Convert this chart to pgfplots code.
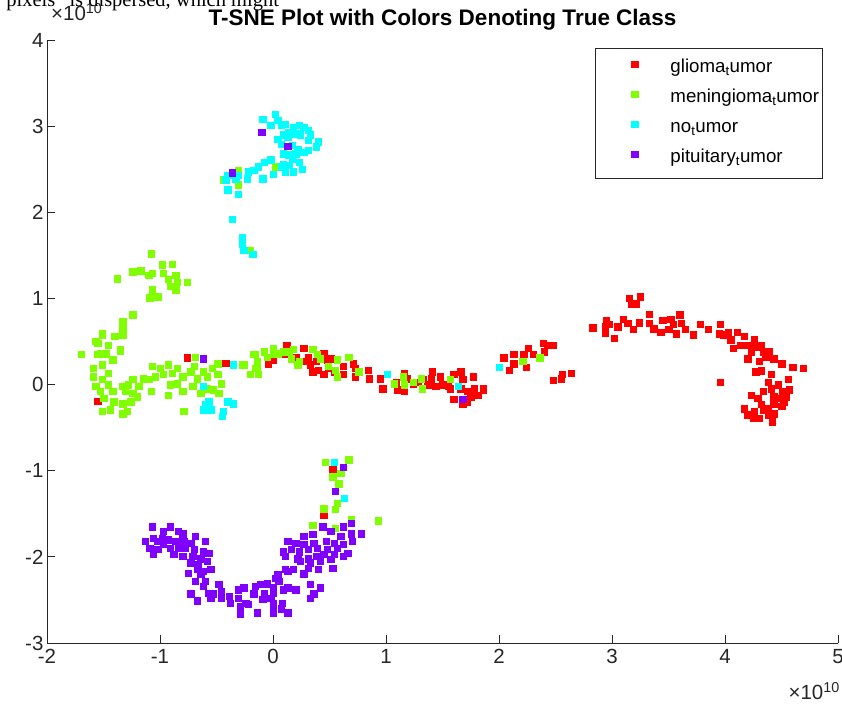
\documentclass[border=0pt]{standalone}
\usepackage{pgfplots}
\pgfplotsset{compat=1.18}
\usepackage{fontspec}
\setmainfont{Liberation Sans}
\newfontfamily\timesfont{Liberation Serif}
\definecolor{cGli}{RGB}{255,0,0}
\definecolor{cMen}{RGB}{128,255,0}
\definecolor{cNo}{RGB}{0,255,255}
\definecolor{cPit}{RGB}{128,0,255}
\definecolor{axgray}{RGB}{38,38,38}
\begin{document}
\begin{tikzpicture}[x=1pt,y=1pt]
\useasboundingbox (0,0) rectangle (842,708);
\node[anchor=base west, inner sep=0pt, font=\timesfont\fontsize{20.5}{24}\selectfont] at (-3,701.5) {\char"201C pixels\char"201D\ is dispersed, which might};
\begin{axis}[
  at={(47pt,65pt)}, anchor=south west,
  scale only axis, width=791pt, height=603pt,
  xmin=-2, xmax=5, ymin=-3, ymax=4,
  xtick={-2,-1,0,1,2,3,4,5}, ytick={-3,-2,-1,0,1,2,3,4},
  axis x line*=bottom, axis y line*=left,
  axis line style={-, draw=axgray, line width=0.9pt},
  tick align=inside, major tick length=8pt,
  tick style={draw=axgray, line width=0.9pt},
  ticklabel style={font=\fontsize{20.5}{24}\selectfont, text=axgray},
  xticklabel style={yshift=-3pt},
  /pgf/number format/assume math mode=true,
  clip=false,
  title={T-SNE Plot with Colors Denoting True Class},
  title style={at={(0.5,1)}, anchor=base, yshift=8.5pt, font=\bfseries\fontsize{22.5}{26}\selectfont, text=black, inner sep=0pt},
  legend style={at={(0.981,0.9867)}, anchor=north east, draw=axgray, line width=0.8pt, fill=white,
    inner xsep=3.5pt, inner ysep=10.5pt, row sep=11pt,
    nodes={inner sep=0pt, text height=14pt, text depth=5pt, font=\fontsize{18.7}{22}\selectfont, line width=0pt},
    /tikz/every even column/.append style={column sep=0pt}},
  legend cell align=left,
  legend image code/.code={\path (0pt,0pt) (70.5pt,0pt); \draw[#1] plot coordinates {(35pt,4pt)};},
  every axis plot/.append style={only marks, mark=square*, mark size=3.2pt, mark options={line width=0.4pt}},
]
\addplot[color=cGli] coordinates {
(3.15,1.00) (3.25,1.02) (3.17,0.93) (3.21,0.94) (2.83,0.66) (2.95,0.74) (2.94,0.67) (2.97,0.70)
(2.94,0.60) (3.02,0.54) (3.05,0.67) (3.10,0.76) (3.14,0.71) (3.19,0.64) (3.24,0.72) (3.33,0.82)
(3.33,0.71) (3.37,0.65) (3.43,0.61) (3.45,0.75) (3.52,0.76) (3.54,0.70) (3.50,0.64) (3.57,0.59)
(3.60,0.81) (3.61,0.71) (3.65,0.64) (3.72,0.58) (3.78,0.70) (3.85,0.64) (3.96,0.70) (3.95,0.59)
(3.99,0.58) (4.03,0.61) (4.05,0.52) (4.11,0.61) (4.14,0.46) (4.17,0.56) (4.20,0.46) (4.26,0.53)
(4.23,0.38) (4.27,0.44) (4.32,0.46) (4.34,0.38) (4.36,0.32) (4.39,0.38) (4.43,0.30) (4.50,0.24)
(4.60,0.20) (4.69,0.19) (4.20,0.30) (4.30,0.27) (4.07,0.42) (3.96,0.03) (4.27,0.15) (4.32,0.16)
(4.41,0.12) (4.38,0.03) (4.56,0.06) (4.47,0.00) (4.57,-0.06) (4.23,-0.12) (4.29,-0.16) (4.34,-0.08)
(4.41,-0.05) (4.43,-0.14) (4.48,-0.16) (4.52,-0.20) (4.32,-0.23) (4.38,-0.28) (4.43,-0.23) (4.50,-0.25)
(4.17,-0.28) (4.20,-0.35) (4.25,-0.39) (4.30,-0.39) (4.38,-0.35) (4.42,-0.43) (4.43,-0.34) (4.26,-0.31)
(4.34,-0.29) (4.51,-0.08) (4.54,-0.14)
(2.04,0.31) (2.13,0.35) (2.09,0.17) (2.13,0.24) (2.24,0.20) (2.22,0.35) (2.26,0.42) (2.30,0.35)
(2.39,0.48) (2.43,0.46) (2.48,0.46) (2.40,0.38) (2.48,0.05) (2.55,0.07) (2.56,0.12) (2.64,0.13)
(1.86,-0.05)
(0.12,0.46) (0.11,0.36) (0.07,0.35) (0.00,0.29) (-0.04,0.24) (0.27,0.42) (0.20,0.32) (0.31,0.32)
(0.29,0.27) (0.33,0.23) (0.38,0.27) (0.40,0.17) (0.45,0.36) (0.48,0.29) (0.51,0.30) (0.49,0.19)
(0.35,0.15) (0.45,0.12) (0.54,0.15) (0.62,0.21) (0.62,0.12) (0.71,0.24) (0.73,0.19) (0.73,0.09)
(0.84,0.17) (0.85,0.07) (0.95,0.07) (0.97,-0.05) (1.10,-0.06) (1.16,-0.08) (1.16,0.13) (1.09,0.03)
(1.19,0.07) (1.24,0.01) (1.28,0.03) (1.33,0.06) (1.37,0.00) (1.41,0.15) (1.40,0.07) (1.44,-0.02)
(1.48,0.09) (1.50,0.00) (1.55,-0.02) (1.57,-0.05) (1.60,0.12) (1.66,0.15) (1.68,0.06) (1.66,-0.05)
(1.77,0.09) (1.78,-0.05) (1.72,-0.08) (1.75,-0.14) (1.81,-0.12) (1.86,-0.06) (1.60,-0.17) (1.68,-0.23)
(1.72,-0.20)
(-0.76,0.31) (-0.42,0.25) (-1.55,-0.19) (0.45,-1.51) (0.53,-0.98)
};
\addlegendentry{glioma\textsubscript{t}umor}
\addplot[color=cMen] coordinates {
(-1.08,1.52) (-0.98,1.39) (-0.89,1.40) (-1.24,1.31) (-1.17,1.32) (-1.10,1.27) (-1.07,1.29) (-0.97,1.29)
(-0.93,1.22) (-0.86,1.27) (-0.85,1.19) (-0.76,1.19) (-0.91,1.14) (-0.86,1.10) (-1.38,1.23) (-1.07,1.10)
(-1.09,1.01) (-1.02,1.02) (-1.24,0.81) (-1.33,0.73) (-1.33,0.64) (-1.40,0.56) (-1.51,0.59) (-1.57,0.50)
(-1.46,0.46) (-1.35,0.41) (-1.53,0.36) (-1.42,0.29) (-1.70,0.35)
(-1.51,0.58) (-1.33,0.58) (-1.55,0.48) (-1.55,0.35) (-1.48,0.36) (-1.35,0.39) (-1.51,0.23) (-1.59,0.19)
(-1.46,0.13) (-1.59,0.09) (-1.51,0.06) (-1.57,-0.02) (-1.46,0.00) (-1.42,-0.08) (-1.33,-0.02) (-1.31,-0.08)
(-1.53,-0.08) (-1.50,-0.16) (-1.41,-0.20) (-1.33,-0.22) (-1.51,-0.31) (-1.44,-0.29) (-1.33,-0.34) (-1.29,-0.31)
(-1.26,-0.20) (-1.24,-0.10) (-1.19,-0.02) (-1.15,0.07) (-1.10,0.06) (-1.04,0.09) (-1.07,0.21) (-1.00,0.19)
(-0.97,0.12) (-0.93,0.23) (-0.89,0.13) (-0.85,0.19) (-0.85,0.01) (-0.80,0.09) (-0.73,0.15) (-0.70,0.21)
(-0.67,0.07) (-0.62,0.15) (-0.58,0.09) (-0.54,0.19) (-0.49,0.12) (-0.46,0.01) (-0.71,-0.02) (-0.58,-0.05)
(-0.53,-0.06) (-0.48,-0.10) (-0.64,-0.10) (-0.91,0.00) (-0.93,-0.12) (-0.80,-0.08) (-0.79,-0.31) (-0.27,0.23)
(-0.20,0.12) (-0.16,0.35) (-0.14,0.19) (-1.24,0.06) (-1.28,0.00) (-1.08,-0.08) (-1.20,-0.14) (-0.69,0.32)
(-0.49,0.24)
(-0.26,0.23) (-0.17,0.35) (-0.14,0.27) (-0.16,0.19) (-0.13,0.12) (-0.08,0.38) (-0.05,0.32) (0.00,0.42)
(0.00,0.35) (0.04,0.36) (0.09,0.38) (0.14,0.38) (0.16,0.30) (0.18,0.41) (0.22,0.23) (0.23,0.27)
(0.35,0.41) (0.39,0.35) (0.42,0.30) (0.49,0.21) (0.57,0.29) (0.55,0.17) (0.57,0.09) (0.67,0.32)
(0.76,0.15) (1.07,0.01) (1.15,0.09) (1.16,0.00) (1.24,0.03) (1.31,0.07) (1.32,-0.05) (1.57,0.06)
(2.21,0.27) (2.36,0.31)
(-0.31,2.49) (-0.44,2.38) (-0.31,2.32) (0.02,2.53) (-0.20,1.56)
(0.46,-0.90) (0.67,-0.87) (0.53,-1.07) (0.60,-1.03) (0.58,-1.15) (0.57,-1.38) (0.55,-1.45) (0.45,-1.44)
(0.35,-1.63) (0.55,-1.67) (0.69,-1.56) (0.93,-1.58)
};
\addlegendentry{meningioma\textsubscript{t}umor}
\addplot[color=cNo] coordinates {
(-0.09,3.08) (0.02,3.14) (0.04,3.07) (-0.02,3.01) (0.07,3.01) (0.11,3.02) (0.18,2.99) (0.23,3.01)
(0.27,2.99) (0.31,2.95) (0.33,2.90) (0.40,2.82) (0.38,2.76) (0.31,2.84) (0.24,2.90) (0.20,2.91)
(0.14,2.93) (0.09,2.90) (0.04,2.85) (0.07,2.79) (0.13,2.87) (0.17,2.78) (0.22,2.73) (0.27,2.70)
(0.31,2.72) (0.20,2.68) (0.14,2.67) (0.09,2.68) (0.17,2.62) (0.23,2.58) (0.09,2.56) (0.07,2.53)
(0.14,2.55) (0.26,2.50) (0.18,2.47) (0.11,2.47) (0.00,2.44) (-0.02,2.61) (-0.08,2.58) (-0.13,2.53)
(-0.17,2.49) (-0.22,2.47) (-0.23,2.39) (-0.09,2.39) (-0.31,2.43) (-0.33,2.39) (-0.40,2.43) (-0.42,2.38)
(-0.40,2.26) (-0.31,2.21) (-0.36,1.92) (-0.27,1.71) (-0.27,1.63) (-0.26,1.56) (-0.18,1.51)
(-0.35,0.23) (-0.62,-0.02) (-0.60,-0.23) (-0.62,-0.29) (-0.55,-0.29) (-0.57,-0.20) (-0.40,-0.20) (-0.35,-0.22)
(-0.44,-0.31) (-0.45,-0.37) (0.54,-0.90) (0.63,-1.32) (2.00,0.20) (1.01,0.12) (1.64,-0.02)
};
\addlegendentry{no\textsubscript{t}umor}
\addplot[color=cPit] coordinates {
(-0.10,2.93) (0.13,2.77) (-0.36,2.46) (-0.62,0.30) (1.68,-0.17)
(-1.07,-1.65) (-0.97,-1.70) (-0.91,-1.65) (-0.84,-1.70) (-0.80,-1.73) (-0.69,-1.76) (-1.13,-1.82) (-1.06,-1.78)
(-1.02,-1.82) (-0.98,-1.78) (-0.93,-1.80) (-0.86,-1.82) (-0.79,-1.82) (-0.73,-1.84) (-0.60,-1.82) (-1.09,-1.90)
(-1.02,-1.91) (-0.97,-1.85) (-0.91,-1.90) (-0.84,-1.90) (-0.78,-1.90) (-0.70,-1.91) (-0.62,-1.94) (-0.57,-1.96)
(-1.06,-1.97) (-0.88,-1.97) (-0.80,-1.99) (-0.71,-1.99) (-0.64,-2.02) (-0.73,-2.07) (-0.66,-2.09) (-0.58,-2.05)
(-0.67,-2.14) (-0.62,-2.17) (-0.55,-2.14) (-0.75,-2.19) (-0.64,-2.20) (-0.69,-2.28) (-0.60,-2.28) (-0.62,-2.34)
(-0.73,-2.43) (-0.67,-2.51) (-0.57,-2.42) (-0.53,-2.43) (-0.48,-2.32) (-0.46,-2.40) (-0.55,-2.48) (-0.46,-2.48)
(-0.39,-2.46) (-0.38,-2.54) (-0.31,-2.38) (-0.31,-2.48) (-0.26,-2.36) (-0.29,-2.57) (-0.24,-2.54) (-0.29,-2.66)
(-0.22,-2.55) (-0.16,-2.34) (-0.17,-2.43) (-0.14,-2.65) (-0.11,-2.32) (-0.08,-2.42) (-0.05,-2.31) (-0.09,-2.49)
(-0.02,-2.48) (0.00,-2.36) (0.04,-2.20) (0.05,-2.28) (0.00,-2.57) (0.07,-2.60) (0.00,-2.65) (0.13,-2.65)
(0.11,-2.14) (0.18,-2.14) (0.13,-2.36) (0.20,-2.38) (0.27,-2.20) (0.33,-2.32) (0.42,-2.36) (0.33,-2.48)
(0.27,-1.76) (0.35,-1.74) (0.44,-1.65) (0.51,-1.70) (0.60,-1.76) (0.69,-1.73) (0.78,-1.73) (0.13,-1.82)
(0.20,-1.84) (0.27,-1.85) (0.36,-1.84) (0.47,-1.82) (0.54,-1.84) (0.62,-1.85) (0.70,-1.82) (0.09,-1.94)
(0.16,-1.91) (0.23,-1.94) (0.31,-1.91) (0.39,-1.90) (0.48,-1.91) (0.57,-1.90) (0.66,-1.96) (0.11,-1.99)
(0.22,-2.02) (0.31,-2.02) (0.38,-1.99) (0.45,-1.97) (0.54,-1.97) (0.62,-1.99) (0.24,-2.05) (0.33,-2.07)
(0.42,-2.05) (0.51,-2.03) (0.31,-2.13) (0.40,-2.14) (0.53,-2.13) (0.62,-1.65) (0.55,-1.24) (0.62,-0.96)
(0.69,-1.61) (0.27,-2.19) (0.13,-2.17) (0.02,-2.25) (0.09,-2.38) (0.36,-2.43) (0.00,-2.42) (0.00,-2.54)
(0.08,-2.54)
};
\addlegendentry{pituitary\textsubscript{t}umor}
\end{axis}
\node[anchor=base west, inner sep=0pt, text=axgray, font=\fontsize{20.5}{24}\selectfont] at (51,687) {×10\textsuperscript{10}};
\node[anchor=base east, inner sep=0pt, text=axgray, font=\fontsize{20.5}{24}\selectfont] at (840,8) {×10\textsuperscript{10}};
\end{tikzpicture}
\end{document}
